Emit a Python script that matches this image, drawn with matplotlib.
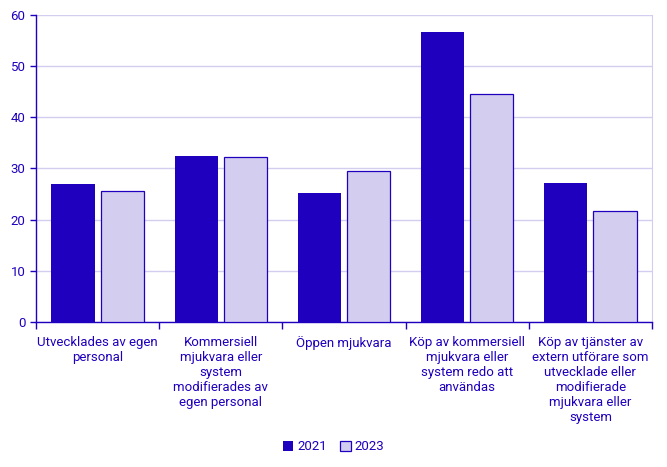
import matplotlib.pyplot as plt
import numpy as np

# Data
categories = [
    'Utvecklades av egen\npersonal',
    'Kommersiell\nmjukvara eller\nsystem\nmodifierades av\negen personal',
    'Öppen mjukvara',
    'Köp av kommersiell\nmjukvara eller\nsystem redo att\nanvändas',
    'Köp av tjänster av\nextern utförare som\nutvecklade eller\nmodifierade\nmjukvara eller\nsystem',
]
v2021 = [27.0, 32.4, 25.2, 56.7, 27.2]
v2023 = [25.5, 32.2, 29.6, 44.5, 21.6]
yticks = [0, 10, 20, 30, 40, 50, 60]

dark = '#1E00BE'
light = '#D3CEF0'

plt.rcParams['font.family'] = ['Roboto', 'DejaVu Sans']
plt.rcParams['font.size'] = 9.5

fig = plt.figure(figsize=(6.67, 4.67), dpi=100)
ax = fig.add_axes([0.054, 0.3105, 0.9235, 0.6575])

x = np.arange(len(categories))
w = 0.35
ax.bar(x - 0.2, v2021, w, color=dark, label='2021', zorder=3)
ax.bar(x + 0.2, v2023, w, color=light, edgecolor=dark, linewidth=0.9, label='2023', zorder=3)

ax.set_xlim(-0.5, len(categories) - 0.5)
ax.set_ylim(0, 60)
ax.set_yticks(yticks)
ax.grid(axis='y', color=light, linewidth=1, zorder=0)

ax.set_xticks(x)
ax.set_xticklabels(categories, color=dark, linespacing=1.2)
ax.tick_params(axis='x', length=0, pad=10)
ax.set_xticks(np.arange(-0.5, len(categories)), minor=True)
ax.tick_params(axis='x', which='minor', length=5, color=dark, width=1)
ax.tick_params(axis='y', colors=dark, length=4, width=1, labelcolor=dark)

for s in ['left', 'bottom']:
    ax.spines[s].set_color(dark)
    ax.spines[s].set_linewidth(1)
ax.spines['right'].set_color(light)
ax.spines['top'].set_visible(False)

fig.legend(loc='center', bbox_to_anchor=(0.5, 0.043), ncol=2, frameon=False,
           handlelength=0.8, handleheight=0.8, handletextpad=0.3, columnspacing=1.0,
           labelcolor=dark)

fig.savefig('out.png', dpi=100)
